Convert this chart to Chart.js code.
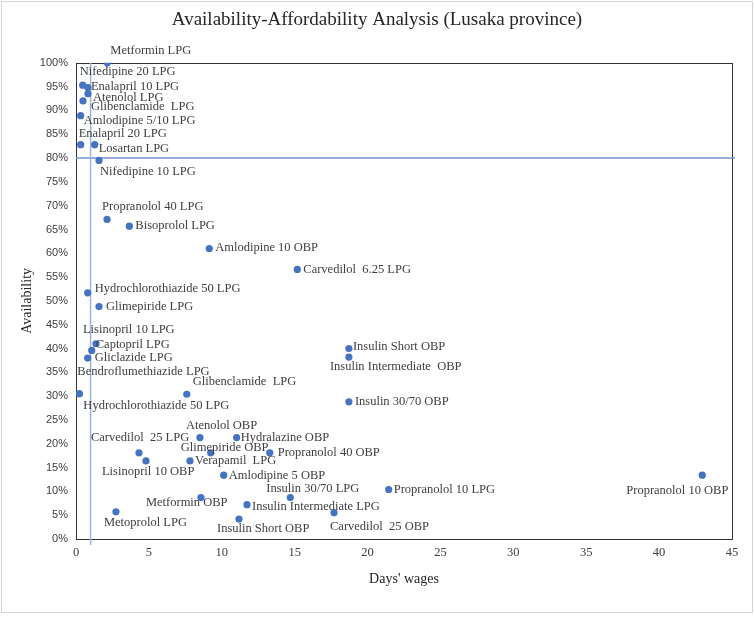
<!DOCTYPE html>
<html>
<head>
<meta charset="utf-8">
<script src="https://cdn.jsdelivr.net/npm/chart.js@4"></script>
<style>
  html, body { margin: 0; padding: 0; background: #ffffff; }
  #wrap { width: 754px; height: 617px; position: relative; }
</style>
</head>
<body>
<div id="wrap"><canvas id="c" width="754" height="617"></canvas></div>
<script>
// ---- Data ----
const medicines = [
  "Metformin LPG", "Nifedipine 20 LPG", "Enalapril 10 LPG", "Atenolol LPG", "Glibenclamide  LPG",
  "Amlodipine 5/10 LPG", "Enalapril 20 LPG", "Losartan LPG", "Nifedipine 10 LPG", "Propranolol 40 LPG",
  "Bisoprolol LPG", "Amlodipine 10 OBP", "Carvedilol  6.25 LPG", "Hydrochlorothiazide 50 LPG", "Glimepiride LPG",
  "Lisinopril 10 LPG", "Captopril LPG", "Gliclazide LPG", "Bendroflumethiazide LPG", "Hydrochlorothiazide 50 LPG",
  "Glibenclamide  LPG", "Insulin Short OBP", "Insulin Intermediate  OBP", "Insulin 30/70 OBP", "Atenolol OBP",
  "Hydralazine OBP", "Carvedilol  25 LPG", "Glimepiride OBP", "Propranolol 40 OBP", "Verapamil  LPG",
  "Lisinopril 10 OBP", "Amlodipine 5 OBP", "Insulin 30/70 LPG", "Propranolol 10 LPG", "Propranolol 10 OBP",
  "Metformin OBP", "Insulin Intermediate LPG", "Metoprolol LPG", "Insulin Short OBP", "Carvedilol  25 OBP"
];
const daysWages = [
  2.15, 0.46, 0.82, 0.82, 0.48,
  0.32, 0.32, 1.28, 1.58, 2.13,
  3.66, 9.14, 15.18, 0.80, 1.58,
  1.37, 1.08, 0.80, 0.23, 0.23,
  7.60, 18.72, 18.72, 18.72, 8.50,
  11.02, 4.32, 9.24, 13.29, 7.82,
  4.80, 10.13, 14.70, 21.45, 42.96,
  8.57, 11.73, 2.74, 11.18, 17.70
];
const availability = [
  100, 95.3, 94.8, 93.5, 92.0,
  88.9, 82.8, 82.8, 79.5, 67.1,
  65.7, 61.0, 56.6, 51.7, 48.8,
  41.0, 39.6, 38.0, 30.5, 30.5,
  30.4, 40.0, 38.2, 28.8, 21.3,
  21.3, 18.1, 18.1, 18.1, 16.4,
  16.4, 13.4, 8.7, 10.4, 13.4,
  8.7, 7.2, 5.7, 4.2, 5.5
];
const xTickValues = [0, 5, 10, 15, 20, 25, 30, 35, 40, 45];
const yTickValues = [0, 5, 10, 15, 20, 25, 30, 35, 40, 45, 50, 55, 60, 65, 70, 75, 80, 85, 90, 95, 100];
const refWages = 1;        // vertical reference line (days' wages)
const refAvailability = 80; // horizontal reference line (%)

// ---- Label placement (layout only, offsets from the point in px) ----
const labelOffsets = [
  [3,-12],[-3,-13],[3,-1],[5,4],[8,6],
  [3,5],[-2,-11],[4,4],[1,11],[-5,-13],
  [6,0],[6,-1],[6,0],[7,-4],[7,0],
  [-13,-14],[4,-6],[7,0],[-2,-22],[4,12],
  [6,-13],[4,-2],[-19,10],[6,0],[-14,-12],
  [4,0],[-48,-15],[-30,-5],[8,0],[5,0],
  [-44,11],[5,1],[-24,-9],[5,0],[-76,16],
  [-55,5],[5,2],[-12,11],[-22,10],[-4,14]
];

const points = daysWages.map((x, i) => ({ x: x, y: availability[i] }));
const SERIF = "'Liberation Serif', 'Times New Roman', serif";
const SANS = "'Liberation Sans', Arial, sans-serif";

const decorPlugin = {
  id: 'decor',
  beforeDraw(chart) {
    const ctx = chart.ctx;
    ctx.save();
    ctx.fillStyle = '#ffffff';
    ctx.fillRect(0, 0, chart.width, chart.height);
    ctx.strokeStyle = '#d4d4d4';
    ctx.lineWidth = 1;
    ctx.strokeRect(1.5, 1.5, chart.width - 3, 611);
    ctx.restore();
  },
  beforeDatasetsDraw(chart) {
    const ctx = chart.ctx, a = chart.chartArea;
    const xs = chart.scales.x, ys = chart.scales.y;
    ctx.save();
    // plot frame
    ctx.strokeStyle = '#333333';
    ctx.lineWidth = 1;
    ctx.strokeRect(Math.round(a.left) + 0.5, Math.round(a.top) + 0.5, Math.round(a.right - a.left), Math.round(a.bottom - a.top));
    // reference lines
    const hy = ys.getPixelForValue(refAvailability);
    ctx.strokeStyle = '#7393cc';
    ctx.lineWidth = 1.5;
    ctx.beginPath(); ctx.moveTo(a.left, hy); ctx.lineTo(a.right + 3, hy); ctx.stroke();
    const vx = xs.getPixelForValue(refWages);
    ctx.strokeStyle = '#9fb4dc';
    ctx.lineWidth = 1.5;
    ctx.beginPath(); ctx.moveTo(vx, a.top); ctx.lineTo(vx, a.bottom + 6); ctx.stroke();
    ctx.restore();
  },
  afterDatasetsDraw(chart) {
    const ctx = chart.ctx;
    const meta = chart.getDatasetMeta(0);
    ctx.save();
    ctx.font = "12.5px " + SERIF;
    ctx.fillStyle = '#404040';
    ctx.textAlign = 'left';
    ctx.textBaseline = 'middle';
    meta.data.forEach((el, i) => {
      const off = labelOffsets[i];
      ctx.fillText(medicines[i], el.x + off[0], el.y + off[1]);
    });
    ctx.restore();
  }
};

new Chart(document.getElementById('c'), {
  type: 'scatter',
  data: {
    datasets: [{
      label: 'Availability',
      data: points,
      backgroundColor: '#4472c4',
      borderColor: '#4472c4',
      pointRadius: 3.6,
      pointHoverRadius: 3.6,
      borderWidth: 0
    }]
  },
  options: {
    responsive: false,
    animation: false,
    layout: { padding: { top: 0, left: 0, right: 0, bottom: 0 } },
    plugins: {
      legend: { display: false },
      tooltip: { enabled: false },
      title: {
        display: true,
        text: 'Availability-Affordability Analysis (Lusaka province)',
        color: '#262626',
        font: { family: SERIF, size: 19, weight: 'normal' },
        padding: { top: 9, bottom: 31 }
      }
    },
    scales: {
      x: {
        type: 'linear',
        min: 0, max: 45,
        afterFit(s) { s.height = 78; },
        afterBuildTicks(s) { s.ticks = xTickValues.map(v => ({ value: v })); },
        grid: { display: false, drawTicks: false },
        border: { display: false },
        ticks: { color: '#404040', font: { family: SERIF, size: 12.5 }, padding: 6, maxRotation: 0 },
        title: { display: true, text: "Days' wages", color: '#262626', font: { family: SERIF, size: 14 }, padding: { top: 0, bottom: 29 } }
      },
      y: {
        type: 'linear',
        min: 0, max: 100,
        afterFit(s) { s.width = 76; },
        afterBuildTicks(s) { s.ticks = yTickValues.map(v => ({ value: v })); },
        grid: { display: false, drawTicks: false },
        border: { display: false },
        ticks: { color: '#404040', font: { family: SANS, size: 11 }, padding: 8, callback: v => v + '%' },
        title: { display: true, text: 'Availability', color: '#262626', font: { family: SERIF, size: 14 }, padding: { top: 19, bottom: 0 } }
      },
      yRight: {
        type: 'linear',
        position: 'right',
        display: true,
        min: 0, max: 100,
        afterFit(s) { s.width = 22; },
        grid: { display: false, drawTicks: false },
        border: { display: false },
        ticks: { display: false }
      }
    }
  },
  plugins: [decorPlugin]
});
</script>
</body>
</html>
